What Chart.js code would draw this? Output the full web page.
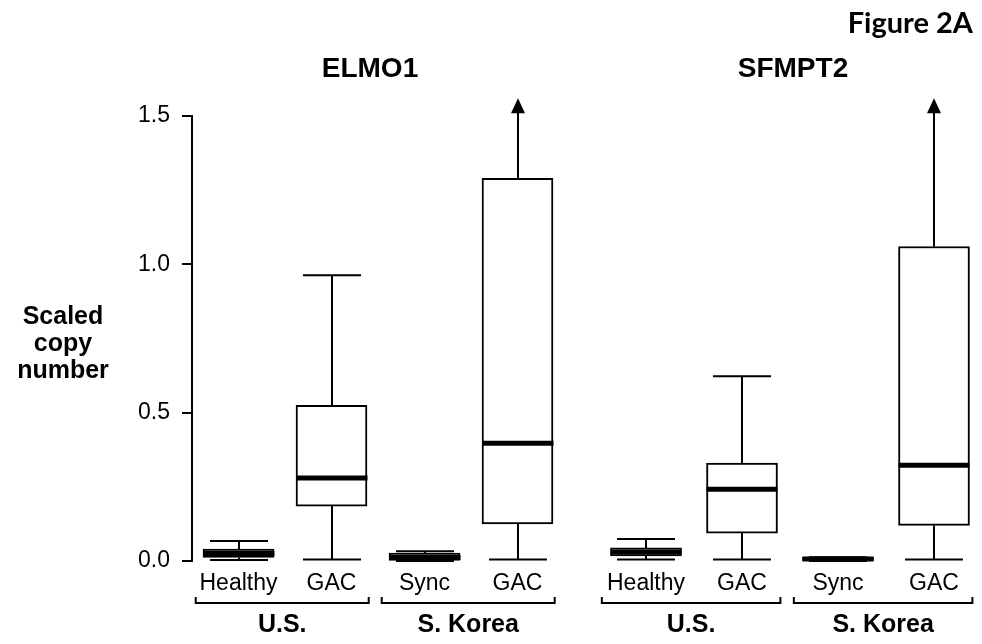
<!DOCTYPE html>
<html>
<head>
<meta charset="utf-8">
<script src="https://cdn.jsdelivr.net/npm/chart.js@4/dist/chart.umd.min.js"></script>
<style>
  html, body { margin: 0; padding: 0; background: #fff; }
  #wrap { position: relative; width: 982px; height: 644px; overflow: hidden; background: #fff; }
  canvas { position: absolute; left: 0; top: 0; }
  .txt { position: absolute; color: #000; white-space: nowrap; }
  #fig { font-family: Lato, "Open Sans", sans-serif; font-weight: 700; font-size: 29px; right: 9px; top: 3px; line-height: 38px; }
  .gene { font-family: "Liberation Sans", Arial, sans-serif; font-weight: 700; font-size: 28px; line-height: 30px; transform: translateX(-50%); top: 53px; }
  #ylab { font-family: "Liberation Sans", Arial, sans-serif; font-weight: 700; font-size: 25px; line-height: 27px; text-align: center; left: 63px; top: 302px; transform: translateX(-50%); }
</style>
</head>
<body>
<div id="wrap">
  <canvas id="c1" width="982" height="644"></canvas>
  <canvas id="c2" width="982" height="644"></canvas>
  <div id="fig" class="txt">Figure 2A</div>
  <div id="g1" class="txt gene" style="left:370px">ELMO1</div>
  <div id="g2" class="txt gene" style="left:793px">SFMPT2</div>
  <div id="ylab" class="txt">Scaled<br>copy<br>number</div>
</div>
<script>
// ---- data ----
const genes = ['ELMO1', 'SFMPT2'];
const categories = ['Healthy', 'GAC', 'Sync', 'GAC'];
const groups = ['U.S.', 'S. Korea'];
const yTicks = [0.0, 0.5, 1.0, 1.5];

const elmoMin    = [0.003, 0.005, 0.000, 0.005];
const elmoQ1     = [0.012, 0.185, 0.002, 0.125];
const elmoMedian = [0.025, 0.280, 0.012, 0.397];
const elmoQ3     = [0.040, 0.525, 0.027, 1.290];
const elmoMax    = [0.067, 0.963, 0.033, 1.560];
const elmoArrow  = [false, false, false, true];

const sfmMin     = [0.005, 0.005, 0.000, 0.005];
const sfmQ1      = [0.017, 0.094, 0.001, 0.120];
const sfmMedian  = [0.030, 0.242, 0.007, 0.323];
const sfmQ3      = [0.044, 0.330, 0.013, 1.060];
const sfmMax     = [0.074, 0.623, 0.013, 1.560];
const sfmArrow   = [false, false, false, true];

const boxPlugin = {
  id: 'boxWhisk',
  afterDatasetsDraw(chart) {
    const s = chart.options.plugins.boxWhisk;
    const ctx = chart.ctx, xs = chart.scales.x, ys = chart.scales.y;
    const w = xs.getPixelForValue(1) - xs.getPixelForValue(0);
    const boxHalf = s.boxWidth / 2, capHalf = s.capWidth / 2;
    ctx.save();
    ctx.strokeStyle = '#000';
    ctx.fillStyle = '#000';
    ctx.lineCap = 'butt';
    for (let i = 0; i < s.min.length; i++) {
      const x = Math.round(xs.getPixelForValue(i));
      const yMin = ys.getPixelForValue(s.min[i]);
      const yQ1 = ys.getPixelForValue(s.q1[i]);
      const yMed = ys.getPixelForValue(s.median[i]);
      const yQ3 = ys.getPixelForValue(s.q3[i]);
      const yMax = ys.getPixelForValue(s.max[i]);
      ctx.lineWidth = 2;
      ctx.beginPath();
      ctx.moveTo(x, yQ3); ctx.lineTo(x, s.arrow[i] ? yMax + 12 : yMax);
      ctx.moveTo(x, yQ1); ctx.lineTo(x, yMin);
      ctx.stroke();
      ctx.beginPath();
      if (!s.arrow[i]) { ctx.moveTo(x - capHalf, yMax); ctx.lineTo(x + capHalf, yMax); }
      ctx.moveTo(x - capHalf, yMin); ctx.lineTo(x + capHalf, yMin);
      ctx.stroke();
      if (s.arrow[i]) {
        ctx.beginPath();
        ctx.moveTo(x, yMax);
        ctx.lineTo(x - 7, yMax + 15);
        ctx.lineTo(x + 7, yMax + 15);
        ctx.closePath();
        ctx.fill();
      }
      ctx.lineWidth = 5;
      ctx.beginPath();
      ctx.moveTo(x - boxHalf, yMed); ctx.lineTo(x + boxHalf, yMed);
      ctx.stroke();
    }
    const yb = chart.chartArea.bottom + 42;
    ctx.lineWidth = 2;
    ctx.font = 'bold 25px "Liberation Sans", Arial, sans-serif';
    ctx.textAlign = 'center';
    ctx.textBaseline = 'middle';
    for (let g = 0; g < groups.length; g++) {
      const xl = xs.getPixelForValue(2 * g) - 0.46 * w;
      const xr = xs.getPixelForValue(2 * g + 1) + 0.40 * w;
      ctx.beginPath();
      ctx.moveTo(xl, yb - 6); ctx.lineTo(xl, yb); ctx.lineTo(xr, yb); ctx.lineTo(xr, yb - 6);
      ctx.stroke();
      ctx.fillText(groups[g], (xl + xr) / 2, yb + 22);
    }
    ctx.restore();
  }
};

function makeChart(id, cfg) {
  const q1 = cfg.q1, q3 = cfg.q3;
  return new Chart(document.getElementById(id), {
    type: 'bar',
    data: {
      labels: categories,
      datasets: [{
        data: q1.map((v, i) => [v, q3[i]]),
        backgroundColor: '#fff',
        borderColor: '#000',
        borderWidth: 2,
        borderSkipped: false,
        barThickness: 71
      }]
    },
    plugins: [boxPlugin],
    options: {
      responsive: false,
      animation: false,
      events: [],
      layout: { padding: { top: 116, bottom: 0, left: cfg.padLeft, right: cfg.padRight } },
      plugins: {
        legend: { display: false },
        tooltip: { enabled: false },
        title: { display: false },
        boxWhisk: { min: cfg.min, q1: cfg.q1, median: cfg.median, q3: cfg.q3, max: cfg.max, arrow: cfg.arrow, boxWidth: 71, capWidth: 58 }
      },
      scales: {
        x: {
          type: 'category',
          offset: true,
          grid: { display: false, drawTicks: false },
          border: { display: false },
          ticks: { color: '#000', font: { family: '"Liberation Sans", Arial, sans-serif', size: 23 }, padding: 9, maxRotation: 0, autoSkip: false },
          afterFit(scale) { scale.height = 83; }
        },
        y: {
          display: cfg.showY,
          min: 0, max: 1.5,
          afterBuildTicks(scale) { scale.ticks = yTicks.map(v => ({ value: v })); },
          grid: { drawOnChartArea: false, drawTicks: true, tickLength: 10, color: '#000', lineWidth: 2 },
          border: { display: true, color: '#000', width: 2 },
          ticks: { color: '#000', font: { family: '"Liberation Sans", Arial, sans-serif', size: 23 }, padding: 12, callback: v => Number(v).toFixed(1) },
          afterFit(scale) { scale.width = cfg.showY ? 192 : 0; }
        }
      }
    }
  });
}

makeChart('c1', { min: elmoMin, q1: elmoQ1, median: elmoMedian, q3: elmoQ3, max: elmoMax, arrow: elmoArrow, padLeft: 0, padRight: 418, showY: true });
makeChart('c2', { min: sfmMin, q1: sfmQ1, median: sfmMedian, q3: sfmQ3, max: sfmMax, arrow: sfmArrow, padLeft: 598, padRight: 0, showY: false });
</script>
</body>
</html>
